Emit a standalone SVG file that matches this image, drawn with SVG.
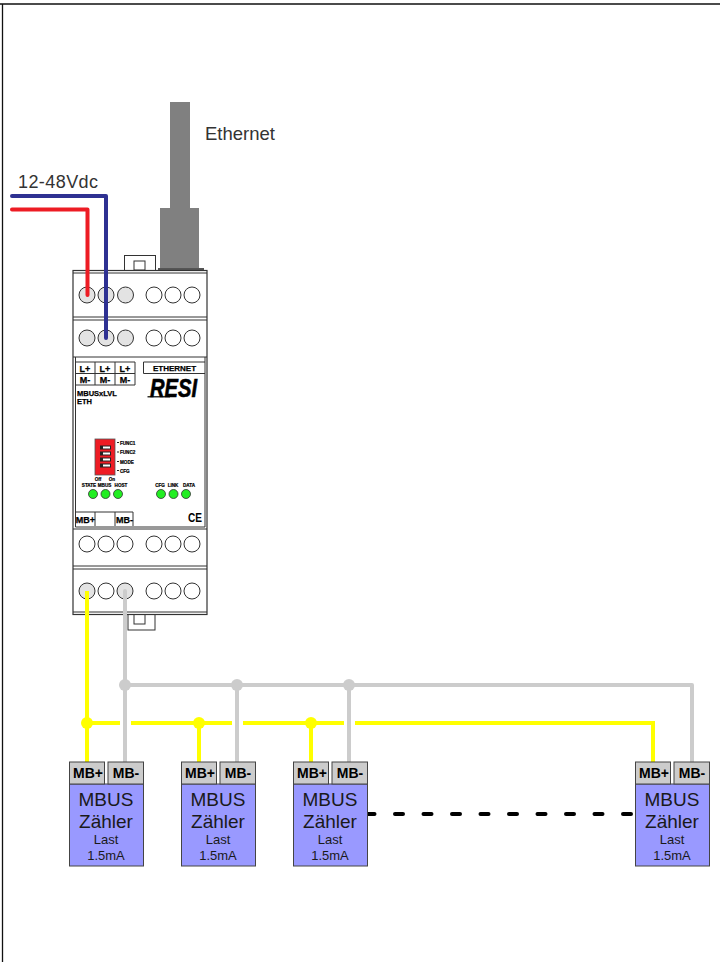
<svg xmlns="http://www.w3.org/2000/svg" width="720" height="962" viewBox="0 0 720 962">
<style>
text{font-family:"Liberation Sans",Arial,sans-serif;fill:#000}
.ln{fill:none;stroke:#333;stroke-width:1}
.dev{fill:#fff;stroke:#333;stroke-width:1.2}
.o{fill:#fff;stroke:#333;stroke-width:1}
.g{fill:#e3e3e3;stroke:#333;stroke-width:1}
.led{fill:#22ee22;stroke:#333;stroke-width:.8}
.b8{font-size:8px;font-weight:bold;stroke:#000;stroke-width:.25}
.b9{font-size:9px;font-weight:bold;stroke:#000;stroke-width:.25}
.b4{font-size:4.6px;font-weight:bold;stroke:#000;stroke-width:.2}
.mb{font-size:14px;font-weight:bold;text-anchor:middle}
.big{font-size:19px;text-anchor:middle;fill:#1a1a1a}
.sm{font-size:13px;text-anchor:middle;fill:#1a1a1a}
.term{fill:#ccc;stroke:#444;stroke-width:1}
.body{fill:#9999ff;stroke:#444;stroke-width:1}
.yw{fill:none;stroke:#ffff00;stroke-width:4}
.gw{fill:none;stroke:#cccccc;stroke-width:4}
</style>
<path d="M0 4H720M2.500 4V962" fill="none" stroke="#111" stroke-width="1.300"/>
<g id="ethernet-cable">
<rect x="170" y="102" width="20" height="106" fill="#808080"/>
<rect x="160" y="208" width="39" height="60" fill="#808080"/>
<rect x="158" y="268" width="46" height="2.500" fill="#555"/>
<text x="205" y="140" font-size="18.500" style="fill:#333">Ethernet</text>
</g>
<g id="device">
<rect class="ln" x="124.500" y="255.500" width="31" height="15"/>
<rect class="ln" x="134" y="261" width="11" height="9"/>
<rect class="ln" x="128" y="614" width="27" height="16"/>
<rect class="ln" x="134" y="614" width="11" height="10"/>
<rect class="dev" x="73" y="270.500" width="134" height="344"/>
<path class="ln" d="M73 273H207M73 317H207M73 320H207M73 357H207M73 529H207M73 566H207M73 569H207M73 612H207"/>
<g>
<circle class="g" cx="87" cy="295" r="8"/><circle class="g" cx="106" cy="295" r="8"/><circle class="g" cx="125.500" cy="295" r="8"/>
<circle class="o" cx="154" cy="295" r="8"/><circle class="o" cx="173" cy="295" r="8"/><circle class="o" cx="192" cy="295" r="8"/>
<circle class="g" cx="87" cy="338" r="8"/><circle class="g" cx="106" cy="338" r="8"/><circle class="g" cx="125.500" cy="338" r="8"/>
<circle class="o" cx="154" cy="338" r="8"/><circle class="o" cx="173" cy="338" r="8"/><circle class="o" cx="192" cy="338" r="8"/>
<circle class="o" cx="87" cy="544" r="8"/><circle class="o" cx="106" cy="544" r="8"/><circle class="o" cx="125" cy="544" r="8"/>
<circle class="o" cx="154" cy="544" r="8"/><circle class="o" cx="173" cy="544" r="8"/><circle class="o" cx="192" cy="544" r="8"/>
<circle class="g" cx="87" cy="591" r="8"/><circle class="o" cx="106" cy="591" r="8"/><circle class="g" cx="125" cy="591" r="8"/>
<circle class="o" cx="154" cy="591" r="8"/><circle class="o" cx="173" cy="591" r="8"/><circle class="o" cx="192" cy="591" r="8"/>
</g>
<path class="ln" d="M75.500 357V527H205V357"/>
<path class="ln" d="M75.500 362H135V385H75.500M75.500 373.500H135M95 362V385M115 362V385M143.500 362H205M143.500 373.500H205M143.500 362V373.500M75.500 512H133V526M95 512V526M115 512V526"/>
<g text-anchor="middle">
<text class="b9" x="85" y="371.500">L+</text><text class="b9" x="105" y="371.500">L+</text><text class="b9" x="125" y="371.500">L+</text>
<text class="b9" x="85" y="383">M-</text><text class="b9" x="105" y="383">M-</text><text class="b9" x="125" y="383">M-</text>
<text class="b8" x="174.500" y="371">ETHERNET</text>
<text class="b9" x="85.500" y="523">MB+</text><text class="b9" x="124.500" y="523">MB-</text>
</g>
<text class="b8" x="77" y="396" style="font-size:7.5px">MBUSxLVL</text>
<text class="b8" x="77" y="403.500" style="font-size:7.5px">ETH</text>
<text x="150" y="396.500" font-size="25" font-weight="bold" font-style="italic" textLength="47" lengthAdjust="spacingAndGlyphs" stroke="#000" stroke-width=".6">RESI</text>
<path d="M147.500 396.800H170" stroke="#000" stroke-width="1.200" fill="none"/>
<rect x="95" y="439" width="20" height="36" fill="#ee1c24" stroke="#555" stroke-width=".8"/>
<g fill="#fff" stroke="#222" stroke-width="1">
<rect x="100.500" y="446" width="10" height="3"/><rect x="100.500" y="452" width="10" height="3"/><rect x="100.500" y="458" width="10" height="3"/><rect x="100.500" y="464" width="10" height="3"/>
</g>
<path d="M100 447.500h3M100 453.500h3M100 459.500h3M100 465.500h3" stroke="#222" stroke-width="3" fill="none"/>
<path d="M117 442.500h2M117 452h2M117 461.500h2M117 470.500h2" stroke="#222" stroke-width="1" fill="none"/>
<text class="b4" x="120" y="444.500">FUNC1</text><text class="b4" x="120" y="453.500">FUNC2</text><text class="b4" x="120" y="463.500">MODE</text><text class="b4" x="120" y="472.500">CFG</text>
<text class="b4" x="98" y="481" text-anchor="middle">Off</text><text class="b4" x="112" y="481" text-anchor="middle">On</text>
<g text-anchor="middle">
<text class="b4" x="89" y="487">STATE</text><text class="b4" x="104.500" y="487">MBUS</text><text class="b4" x="121" y="487">HOST</text>
<text class="b4" x="160" y="487">CFG</text><text class="b4" x="173" y="487">LINK</text><text class="b4" x="189" y="487">DATA</text>
</g>
<circle class="led" cx="93" cy="494" r="4.500"/><circle class="led" cx="105.500" cy="494" r="4.500"/><circle class="led" cx="118" cy="494" r="4.500"/>
<circle class="led" cx="161" cy="494" r="4.500"/><circle class="led" cx="173.500" cy="494" r="4.500"/><circle class="led" cx="186" cy="494" r="4.500"/>
<text x="188" y="522" font-size="12" font-weight="bold" textLength="14" lengthAdjust="spacingAndGlyphs">CE</text>
</g>
<g id="connectors">
<text x="18" y="188" font-size="18" textLength="80" style="fill:#333">12-48Vdc</text>
<path d="M12 209.500H87.500V295" fill="none" stroke="#ed1c24" stroke-width="4" stroke-linecap="round" stroke-linejoin="round"/>
<path d="M12 196H106V338" fill="none" stroke="#2e3192" stroke-width="4" stroke-linecap="round" stroke-linejoin="round"/>
<path class="gw" d="M125 591V762M125 685H692V762M237 685V762M349 685V762" stroke-linejoin="round" stroke-linecap="round"/>
<path class="yw" d="M87 591V762M87 723H120M131 723H232M243 723H344M355 723H653V762M199 723V762M311 723V762"/>
<g fill="#ccc"><circle cx="125" cy="685" r="6"/><circle cx="237" cy="685" r="6"/><circle cx="349" cy="685" r="6"/></g>
<g fill="#ffff00"><circle cx="87" cy="723" r="6"/><circle cx="199" cy="723" r="6"/><circle cx="311" cy="723" r="6"/></g>
<path d="M366.500 814H634" fill="none" stroke="#000" stroke-width="4" stroke-linecap="round" stroke-dasharray="8 20.500"/>
</g>
<defs>
<g id="meter">
<rect class="body" x="69.500" y="784" width="74" height="82"/>
<rect class="term" x="69.500" y="762" width="35" height="22"/>
<rect class="term" x="108" y="762" width="35.500" height="22"/>
<text class="mb" x="88" y="778">MB+</text>
<text class="mb" x="126" y="778">MB-</text>
<text class="big" x="106" y="806">MBUS</text>
<text class="big" x="106" y="828">Zähler</text>
<text class="sm" x="106" y="843.500">Last</text>
<text class="sm" x="106" y="859.500">1.5mA</text>
</g>
</defs>
<g id="meter-1"><use href="#meter"/></g>
<g id="meter-2"><use href="#meter" x="112"/></g>
<g id="meter-3"><use href="#meter" x="224"/></g>
<g id="meter-4"><use href="#meter" x="566"/></g>
</svg>
